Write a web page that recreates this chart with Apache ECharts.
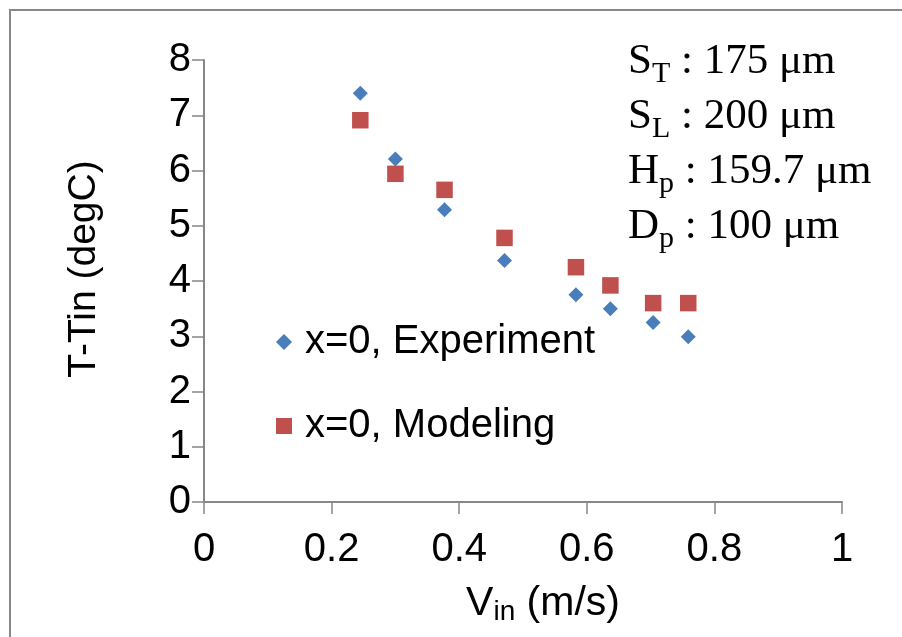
<!DOCTYPE html>
<html>
<head>
<meta charset="utf-8">
<title>T-Tin vs Vin</title>
<script src="https://cdn.jsdelivr.net/npm/echarts@6/dist/echarts.min.js"></script>
<style>
  html, body { margin: 0; padding: 0; background: #ffffff; overflow: hidden; }
  #chart { width: 902px; height: 637px; }
</style>
</head>
<body>
<div id="chart"></div>
<script>
// Inlet velocity (m/s) at each measurement station
const vIn = [0.245, 0.300, 0.377, 0.471, 0.583, 0.637, 0.704, 0.759];
// Temperature rise T - Tin (degC) at x = 0
const experimentDT = [7.40, 6.21, 5.29, 4.37, 3.75, 3.50, 3.25, 2.99];
const modelingDT = [6.91, 5.94, 5.65, 4.78, 4.25, 3.92, 3.60, 3.60];
const seriesNames = ['x=0, Experiment', 'x=0, Modeling'];

// Pin-fin geometry shown beside the data
const paramSymbols = ['S', 'S', 'H', 'D'];
const paramSubscripts = ['T', 'L', 'p', 'p'];
const paramValues = ['175 μm', '200 μm', '159.7 μm', '100 μm'];

const FONT = '"Liberation Sans", Arial, sans-serif';
const SERIF = '"Liberation Serif", "Times New Roman", serif';
const AXIS_GRAY = '#878787';

const paramText = paramSymbols.map(function (s, i) {
  return '{m|' + s + '}{s|' + paramSubscripts[i] + '}{m| : ' + paramValues[i] + '}';
}).join('\n');

const chart = echarts.init(document.getElementById('chart'), null, { renderer: 'canvas' });

chart.setOption({
  backgroundColor: '#ffffff',
  animation: false,
  grid: { left: 204, top: 60, width: 638, height: 442, containLabel: false },
  xAxis: {
    type: 'value',
    min: 0,
    max: 1,
    interval: 0.2,
    name: '{v|V}{s|in}{v| (m/s)}',
    nameLocation: 'middle',
    nameGap: 80,
    nameTextStyle: {
      padding: [0, 0, 0, 40],
      rich: {
        v: { fontFamily: FONT, fontSize: 41, color: '#000', lineHeight: 44, verticalAlign: 'middle' },
        s: { fontFamily: FONT, fontSize: 28, color: '#000', lineHeight: 30, verticalAlign: 'bottom' }
      }
    },
    axisLine: { show: true, lineStyle: { color: AXIS_GRAY, width: 2 } },
    axisTick: { show: true, inside: false, length: 12, lineStyle: { color: AXIS_GRAY, width: 1.5 } },
    axisLabel: { color: '#000', fontFamily: FONT, fontSize: 40, margin: 28 },
    splitLine: { show: false }
  },
  yAxis: {
    type: 'value',
    min: 0,
    max: 8,
    interval: 1,
    name: 'T-Tin (degC)',
    nameLocation: 'middle',
    nameGap: 100,
    nameTextStyle: { color: '#000', fontFamily: FONT, fontSize: 39, padding: [0, 0, 0, 24] },
    axisLine: { show: true, lineStyle: { color: AXIS_GRAY, width: 2 } },
    axisTick: { show: true, inside: false, length: 12, lineStyle: { color: AXIS_GRAY, width: 1.5 } },
    axisLabel: { color: '#000', fontFamily: FONT, fontSize: 40, margin: 13 },
    splitLine: { show: false }
  },
  legend: {
    orient: 'vertical',
    left: 271,
    top: 317,
    itemWidth: 16,
    itemHeight: 16,
    itemGap: 44,
    data: [
      { name: seriesNames[0], icon: 'diamond' },
      { name: seriesNames[1], icon: 'rect' }
    ],
    textStyle: { color: '#000', fontFamily: FONT, fontSize: 40, lineHeight: 40, padding: [0, 0, 0, 8] }
  },
  graphic: [
    {
      type: 'polyline',
      silent: true,
      shape: { points: [[10, 700], [10, 10], [1000, 10]] },
      style: { stroke: '#888888', lineWidth: 2, fill: null }
    },
    {
      type: 'text',
      left: 628,
      top: 40,
      silent: true,
      style: {
        text: paramText,
        fill: '#000',
        rich: {
          m: { fontFamily: SERIF, fontSize: 43, lineHeight: 55, verticalAlign: 'middle', fill: '#000' },
          s: { fontFamily: SERIF, fontSize: 30, lineHeight: 32, verticalAlign: 'bottom', fill: '#000' }
        }
      }
    }
  ],
  series: [
    {
      name: seriesNames[0],
      type: 'scatter',
      symbol: 'diamond',
      symbolSize: [15, 15],
      itemStyle: { color: '#4A7EBB', opacity: 1 },
      data: vIn.map(function (v, i) { return [v, experimentDT[i]]; })
    },
    {
      name: seriesNames[1],
      type: 'scatter',
      symbol: 'rect',
      symbolSize: 16.5,
      itemStyle: { color: '#C0504D', opacity: 1 },
      data: vIn.map(function (v, i) { return [v, modelingDT[i]]; })
    }
  ]
});
</script>
</body>
</html>
